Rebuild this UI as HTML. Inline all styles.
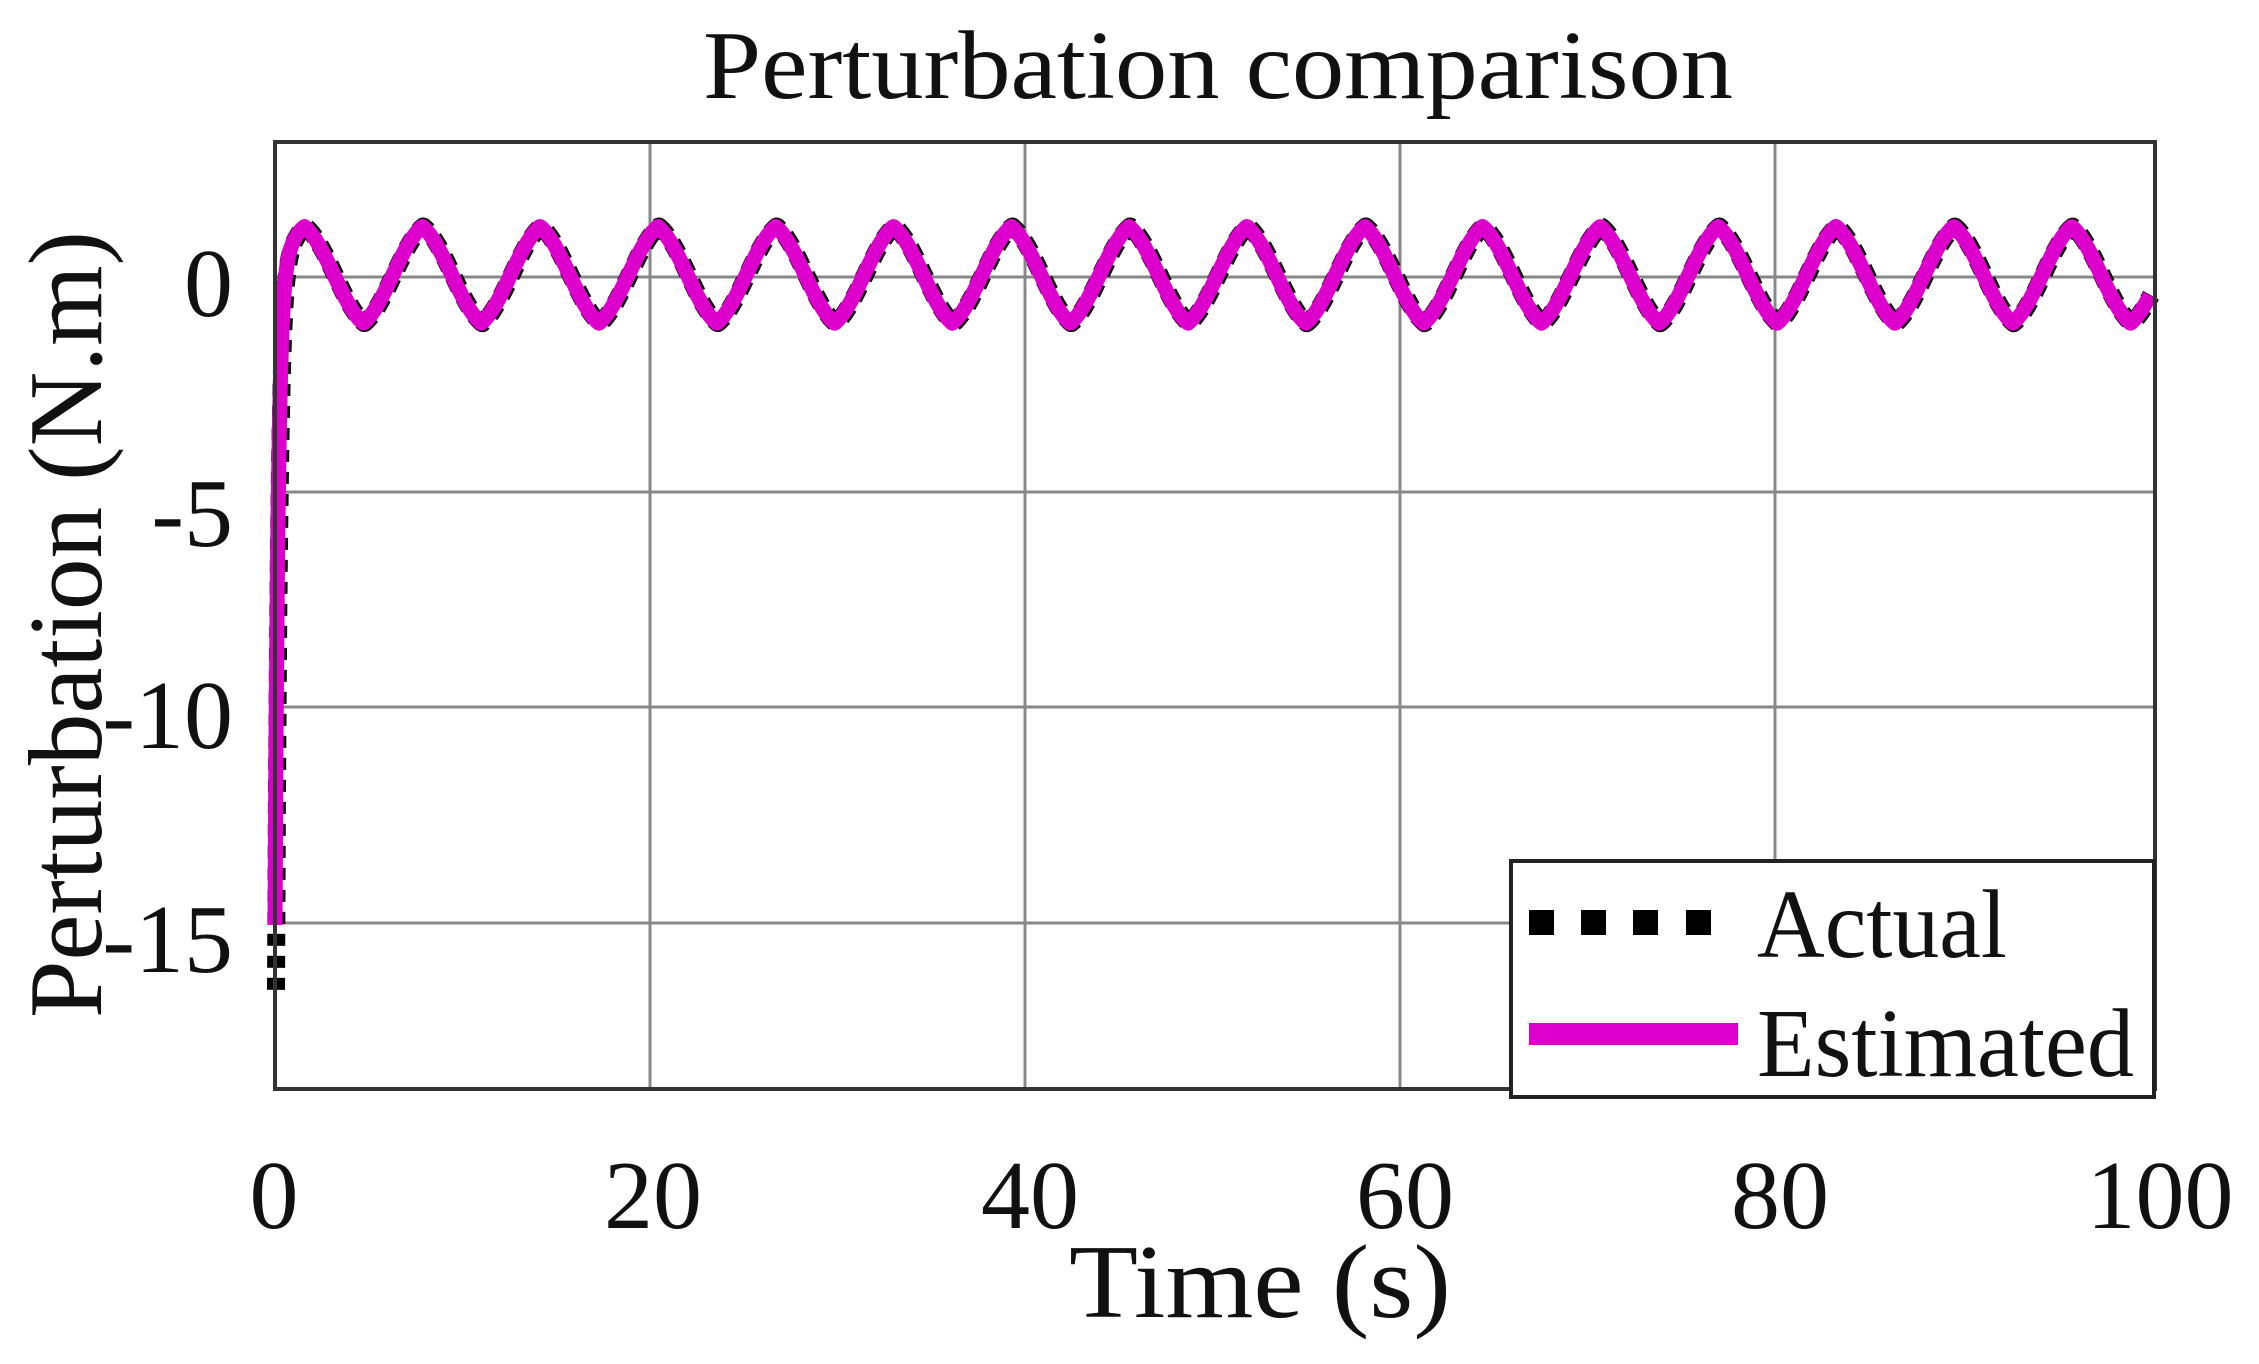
<!DOCTYPE html>
<html><head><meta charset="utf-8"><style>html,body{margin:0;padding:0;background:#fff}svg{display:block}</style></head>
<body>
<svg id="s" width="2259" height="1364" viewBox="0 0 2259 1364" xmlns="http://www.w3.org/2000/svg" font-family="Liberation Serif, serif">
<rect width="2259" height="1364" fill="#fff"/>
<g stroke="#888" stroke-width="3" fill="none">
<line x1="650" y1="142" x2="650" y2="1089"/>
<line x1="1025" y1="142" x2="1025" y2="1089"/>
<line x1="1400" y1="142" x2="1400" y2="1089"/>
<line x1="1775" y1="142" x2="1775" y2="1089"/>
<line x1="275" y1="277" x2="2155" y2="277"/>
<line x1="275" y1="492" x2="2155" y2="492"/>
<line x1="275" y1="707" x2="2155" y2="707"/>
<line x1="275" y1="923" x2="2155" y2="923"/>
</g>
<path id="act" fill="none" stroke="#000" stroke-width="18" stroke-dasharray="12 10" stroke-linejoin="round"/>
<path id="est" fill="none" stroke="#dd00cc" stroke-width="15" stroke-linejoin="round"/>
<rect x="275" y="142" width="1880" height="947" fill="none" stroke="#333" stroke-width="4"/>
<rect x="1511" y="861" width="643" height="236" fill="#fff" stroke="#222" stroke-width="4"/>
<g fill="#000">
<rect x="1529" y="910" width="25" height="25"/><rect x="1581" y="910" width="25" height="25"/>
<rect x="1633" y="910" width="25" height="25"/><rect x="1686" y="910" width="25" height="25"/>
</g>
<rect x="1529" y="1023" width="209" height="22" fill="#dd00cc"/>
<g font-size="98" fill="#111">
<text x="1757" y="957" textLength="250" lengthAdjust="spacingAndGlyphs">Actual</text>
<text x="1757" y="1076" textLength="377" lengthAdjust="spacingAndGlyphs">Estimated</text>
<text x="703" y="98" textLength="1030" lengthAdjust="spacingAndGlyphs">Perturbation comparison</text>
<g text-anchor="middle">
<text x="274" y="1228">0</text><text x="653" y="1228">20</text><text x="1030" y="1228">40</text>
<text x="1405" y="1228">60</text><text x="1780" y="1228">80</text><text x="2160" y="1228">100</text>
</g>
<g text-anchor="end">
<text x="233" y="316">0</text><text x="233" y="546">-5</text><text x="233" y="748">-10</text><text x="233" y="972">-15</text>
</g>
<text x="1069" y="1317" font-size="105" textLength="382" lengthAdjust="spacingAndGlyphs">Time (s)</text>
<text transform="translate(101,1018) rotate(-90)" x="0" y="0" font-size="105" textLength="787" lengthAdjust="spacingAndGlyphs">Perturbation (N.m)</text>
</g>
<script>
var X=function(t){return 275+t*18.75},Y=function(v){return 277-v*43.2};
function w(t){var s=Math.sin(t);var tri=(2/Math.PI)*Math.asin(s);return 0.5*s+0.5*tri;}
function f(t,init){var s=1.12*w(t)+0.05;var e=Math.exp(-t*6);return s*(1-e)+init*e;}
var a="",b="";
for(var i=0;i<=4000;i++){var t=i*0.025;
b+=(i?"L":"M")+X(t).toFixed(1)+" "+Y(f(t,-15)).toFixed(1);
a+=(i?"L":"M")+(X(t)+1).toFixed(1)+" "+Y(f(t,-16.5)).toFixed(1);}
document.getElementById("est").setAttribute("d",b);
document.getElementById("act").setAttribute("d",a);
</script>
</svg>
</body></html>
